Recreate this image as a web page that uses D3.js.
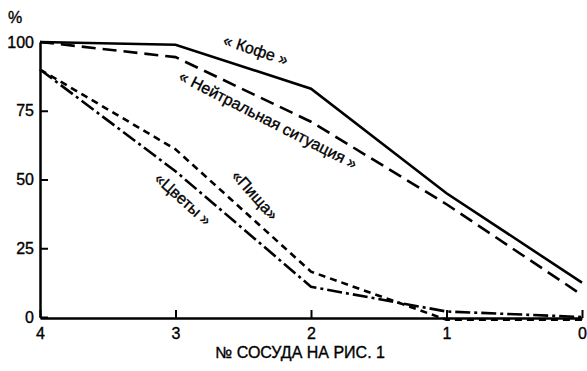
<!DOCTYPE html>
<html>
<head>
<meta charset="utf-8">
<script src="https://cdn.jsdelivr.net/npm/d3@7.9.0/dist/d3.min.js"></script>
<style>
  body { margin: 0; background: #fff; }
  text { font-family: "Liberation Sans", Arial, sans-serif; fill: #000; stroke: #000; stroke-width: 0.35px; }
</style>
</head>
<body>
<svg id="chart" width="587" height="371"></svg>
<script>
// vessel numbers (x) and percentage values per condition
const vessels = [4, 3, 2, 1, 0];
const coffee = [100, 99, 83, 45, 12.5];
const neutral = [100, 94.5, 71, 41, 8];
const food = [90, 61, 16.5, -1, -1];
const flowers = [90, 53, 11, 2, 0];
const yTicks = [0, 25, 50, 75, 100];

const series = [
  { name: "coffee", values: coffee, dash: null },
  { name: "neutral", values: neutral, dash: "14,7" },
  { name: "food", values: food, dash: "7,5" },
  { name: "flowers", values: flowers, dash: "15,4,3,4" },
];

// annotation anchors in data units
const labels = [
  { text: "« Кофе »", x: 2.41, y: 96.7, angle: 18 },
  { text: "« Нейтральная ситуация »", x: 2.32, y: 71.3, angle: 27 },
  { text: "«Пища»", x: 2.42, y: 44, angle: 48 },
  { text: "«Цветы »", x: 2.95, y: 42.5, angle: 42 },
];

const svg = d3.select("#chart");

const x = d3.scaleLinear().domain([4, 0]).range([40, 582]);
const y = d3.scaleLinear().domain([0, 100]).range([317, 42]);

const font = "Liberation Sans, Arial, sans-serif";

// y axis
const yAxis = svg
  .append("g")
  .attr("transform", `translate(${x(4)},0)`)
  .call(d3.axisLeft(y).tickValues(yTicks).tickSizeInner(-8).tickSizeOuter(0).tickPadding(6));
yAxis.select(".domain").attr("stroke-width", 2.5);
yAxis.selectAll(".tick line").attr("stroke-width", 2);
yAxis.selectAll("text").style("font-size", "16px").style("font-family", font);

// x axis
const xAxis = svg
  .append("g")
  .attr("transform", `translate(0,${y(0) + 1})`)
  .call(d3.axisBottom(x).tickValues(vessels).tickFormat(d3.format("d")).tickSizeInner(-8).tickSizeOuter(0).tickPadding(10));
xAxis.select(".domain").attr("stroke-width", 2.5);
xAxis.selectAll(".tick line").attr("stroke-width", 2);
xAxis.selectAll("text").style("font-size", "16px").style("font-family", font);

svg
  .append("text")
  .attr("x", 8)
  .attr("y", 23)
  .style("font-size", "16px")
  .text("%");

svg
  .append("text")
  .attr("x", 300)
  .attr("y", 358)
  .attr("text-anchor", "middle")
  .style("font-size", "16px")
  .text("№ СОСУДА НА РИС. 1");

const line = d3
  .line()
  .x((d, i) => x(vessels[i]))
  .y((d) => y(d));

svg
  .selectAll(".series")
  .data(series)
  .enter()
  .append("path")
  .attr("class", "series")
  .attr("d", (d) => line(d.values))
  .attr("fill", "none")
  .attr("stroke", "#000")
  .attr("stroke-width", 2.6)
  .attr("stroke-dasharray", (d) => d.dash);

svg
  .selectAll(".label")
  .data(labels)
  .enter()
  .append("text")
  .attr("class", "label")
  .attr("transform", (d) => `translate(${x(d.x)},${y(d.y)}) rotate(${d.angle})`)
  .attr("text-anchor", "middle")
  .attr("dominant-baseline", "middle")
  .style("font-size", "16px")
  .text((d) => d.text);
</script>
</body>
</html>
